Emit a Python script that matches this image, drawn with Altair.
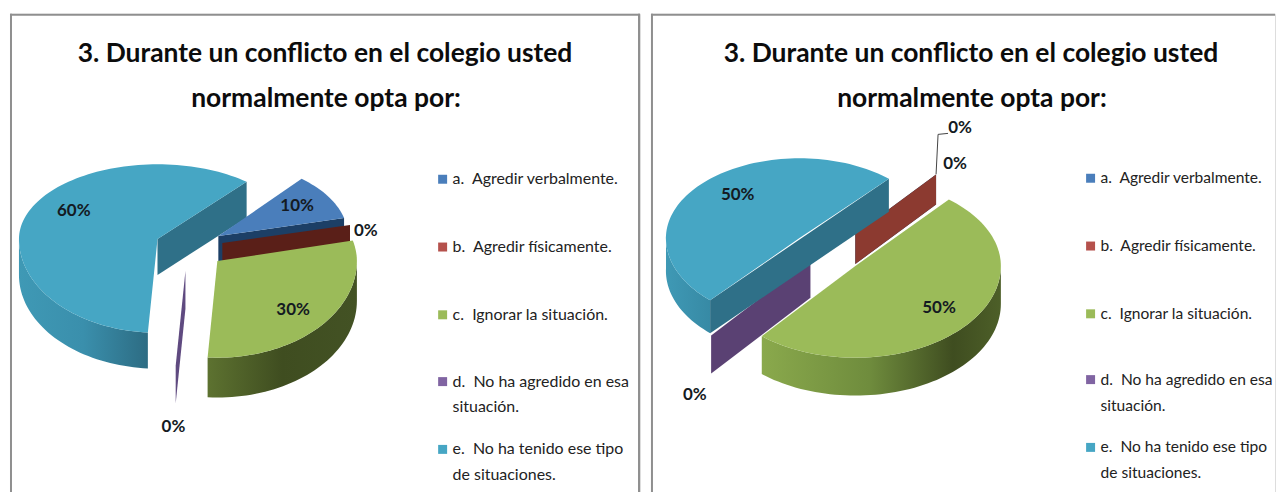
import math
import altair as alt
import pandas as pd

# ---- data
CATEGORIES = ["a", "b", "c", "d", "e"]
LEFT_VALUES = [10, 0, 30, 0, 60]
RIGHT_VALUES = [0, 0, 50, 0, 50]
LEGEND_LINES = [
    "a.\u00a0 Agredir verbalmente.",
    "b.\u00a0 Agredir físicamente.",
    "c.\u00a0 Ignorar la situación.",
    "d.\u00a0 No ha agredido en esa\nsituación.",
    "e.\u00a0 No ha tenido ese tipo\nde situaciones.",
]
TITLE_LINES = ["3. Durante un conflicto en el colegio usted", "normalmente opta por:"]

# ---- styles
FONT = "Lato"
TOP = dict(a="#4a7ebb", b="#8c3a30", c="#9bbb59", d="#5f4a80", e="#46a6c4")
SWATCH = dict(a="#4a7ebb", b="#b5514c", c="#9bbb59", d="#8064a2", e="#46a6c4")
CUT = dict(a="#1c3f66", b="#5a1f18", c="#4a5a28", d="#5f4a80", e="#2f7088")
LEFT_CUT = CUT
RIGHT_CUT = dict(CUT, b="#8c3a30", d="#5a4173")
START = 50.0  # first slice starts here (degrees, counter-clockwise from east)
FRAME = "#8f8f8f"

# ---- 3-D pie projection of each slice: apex, radii, wall depth
LEFT_GEOM = dict(
    a=dict(ax=218, ay=235, rx=130, ryb=75, ryf=90, d=36),
    b=dict(ax=222, ay=242, rx=132, ryb=75, ryf=90, d=36),
    c=dict(ax=217, ay=260, rx=140, ryb=85, ryf=97, d=40),
    d=dict(ax=185, ay=270, rx=140, ryb=85, ryf=95, d=38),
    e=dict(ax=157, ay=238, rx=139, ryb=75, ryf=94, d=36),
)
RIGHT_GEOM = dict(
    a=dict(ax=855, ay=233, rx=126, ryb=78, ryf=90, d=30),
    b=dict(ax=855, ay=233, rx=126, ryb=78, ryf=90, d=30),
    c=dict(ax=855, ay=265, rx=146, ryb=87, ryf=92, d=38),
    d=dict(ax=810, ay=259, rx=155, ryb=90, ryf=99, d=38),
    e=dict(ax=799, ay=237, rx=134, ryb=80, ryf=84, d=33, da=-2),
)


def pt(g, deg, drop=0):
    a = math.radians(deg + g.get("da", 0))
    s = math.sin(a)
    return (g["ax"] + g["rx"] * math.cos(a),
            g["ay"] - (g["ryb"] if s > 0 else g["ryf"]) * s + drop)


def arc(g, a0, a1, drop=0, front_only=False):
    n = max(2, int(abs(a0 - a1) / 2))
    angs = [a0 + (a1 - a0) * i / n for i in range(n + 1)]
    if front_only:
        angs = [a for a in angs if math.sin(math.radians(a)) <= 0.001]
    return [pt(g, a, drop) for a in angs]


def angles(values):
    total = sum(values)
    out, cur = {}, START
    for c, v in zip(CATEGORIES, values):
        nxt = cur - 360.0 * v / total
        out[c] = (cur, nxt)
        cur = nxt
    return out


def grad(stops):
    return alt.LinearGradient(
        gradient="linear", x1=0, x2=1, y1=0, y2=0,
        stops=[alt.GradientStop(color=c, offset=o) for c, o in stops],
    )


def panel(values, geom, cut, order, walls, labels, leg_x, leg_ys, leg_size, line_h, title_x,
          dom_x, width, frame, leader=None):
    dom_y = [502, 12]
    height = 490
    sx = alt.Scale(domain=dom_x, nice=False, zero=False)
    sy = alt.Scale(domain=dom_y, nice=False, zero=False)
    X = lambda f: alt.X(f, axis=None, scale=sx)
    Y = lambda f: alt.Y(f, axis=None, scale=sy)

    def P(points, fill):
        pts = list(points) + [points[0]]
        df = pd.DataFrame({"x": [p[0] for p in pts], "y": [p[1] for p in pts], "o": range(len(pts))})
        return alt.Chart(df).mark_line(fill=fill, strokeWidth=0).encode(
            x=X("x:Q"), y=Y("y:Q"), order="o:Q")

    def L(points, color, sw):
        df = pd.DataFrame({"x": [p[0] for p in points], "y": [p[1] for p in points], "o": range(len(points))})
        return alt.Chart(df).mark_line(color=color, strokeWidth=sw).encode(
            x=X("x:Q"), y=Y("y:Q"), order="o:Q")

    ang = angles(values)
    layers = [P([(x0, y0), (x1, y0), (x1, y1), (x0, y1)], FRAME) for x0, y0, x1, y1 in frame]
    for kind, c in order:
        g = geom[c]
        a0, a1 = ang[c]
        if kind == "wall":
            top = arc(g, a0, a1, front_only=True)
            low = arc(g, a0, a1, drop=g["d"], front_only=True)
            layers.append(P(top + low[::-1], grad(walls[c])))
        elif kind == "cut":
            r = pt(g, a1)
            layers.append(P([(g["ax"], g["ay"]), r, (r[0], r[1] + g["d"]),
                             (g["ax"], g["ay"] + g["d"])], cut[c]))
        elif kind == "span":  # half pie: the cut runs from one rim point to the other
            r0, r1 = pt(g, a0), pt(g, a1)
            layers.append(P([r0, r1, (r1[0], r1[1] + g["d"]), (r0[0], r0[1] + g["d"])], cut[c]))
        else:
            layers.append(P([(g["ax"], g["ay"])] + arc(g, a0, a1), TOP[c]))
    if leader:
        layers.append(L(leader, "#444444", 1))
    # data labels
    ldf = pd.DataFrame(labels, columns=["x", "y", "t"])
    layers.append(alt.Chart(ldf).mark_text(font=FONT, fontSize=17, fontWeight="bold", color="#141a22").encode(
        x=X("x:Q"), y=Y("y:Q"), text="t:N"))
    # titles
    tdf = pd.DataFrame({"t": TITLE_LINES, "x": [title_x, title_x + 1], "y": [52, 98]})
    layers.append(alt.Chart(tdf).mark_text(font=FONT, fontSize=26.5, fontWeight="bold", color="#0c0c0c").encode(
        x=X("x:Q"), y=Y("y:Q"), text="t:N"))
    # legend
    ldf = pd.DataFrame({"c": CATEGORIES, "t": LEGEND_LINES, "y": leg_ys,
                        "fill": [SWATCH[c] for c in CATEGORIES],
                        "sx": [leg_x] * 5, "tx": [leg_x + 10] * 5})
    layers.append(alt.Chart(ldf).mark_square(size=81, opacity=1).encode(
        x=X("sx:Q"), y=Y("y:Q"), color=alt.Color("fill:N", scale=None)))
    layers.append(alt.Chart(ldf).mark_text(font=FONT, fontSize=leg_size, align="left", baseline="middle",
                                           lineBreak="\n", lineHeight=line_h, color="#222222").encode(
        x=X("tx:Q"), y=Y("y:Q"), text="t:N"))
    return alt.layer(*layers).properties(width=width, height=height)


LEFT_WALLS = dict(c=[("#5d7230", 0), ("#3f4d20", 0.5), ("#435224", 1)],
                  e=[("#3f99b5", 0), ("#3a8fac", 0.5), ("#2d6c83", 1)])
RIGHT_WALLS = dict(c=[("#8aa94c", 0), ("#6f8c3d", 0.45), ("#3f4d20", 0.8), ("#4d5f28", 1)],
                   e=[("#3f99b5", 0), ("#378aa5", 1)])

left = panel(
    LEFT_VALUES, LEFT_GEOM, LEFT_CUT,
    [("wall", "e"), ("cut", "e"), ("top", "e"), ("cut", "d"), ("cut", "a"), ("top", "a"),
     ("cut", "b"), ("wall", "c"), ("top", "c")],
    LEFT_WALLS,
    [(297, 205, "10%"), (366, 230, "0%"), (293, 309, "30%"), (73, 210, "60%"), (173, 427, "0%")],
    443, [178, 246, 314, 381, 449], 16, 26, 325, [9, 641], 632,
    frame=[(9, 12, 11, 500), (9, 12, 641, 14), (639, 12, 641, 500)],
)
right = panel(
    RIGHT_VALUES, RIGHT_GEOM, RIGHT_CUT,
    [("cut", "d"), ("cut", "a"), ("cut", "b"), ("wall", "e"), ("span", "e"), ("top", "e"),
     ("wall", "c"), ("top", "c")],
    RIGHT_WALLS,
    [(960, 127, "0%"), (955, 163, "0%"), (939, 307, "50%"), (694, 394, "0%"), (737, 194, "50%")],
    1091, [177, 245, 313, 379, 447], 15.6, 26, 971, [650, 1276], 626,
    frame=[(650, 12, 652, 500), (650, 12, 1276, 14)],
    leader=[(936, 173), (938, 133), (948, 132)],
)

chart = alt.hconcat(left, right, spacing=9).properties(
    padding={"left": 1, "top": 4, "right": 0, "bottom": 0}
).configure_view(stroke=None).configure(background="white")
chart.save("out.html", embed_options={"renderer": "svg", "actions": False})
